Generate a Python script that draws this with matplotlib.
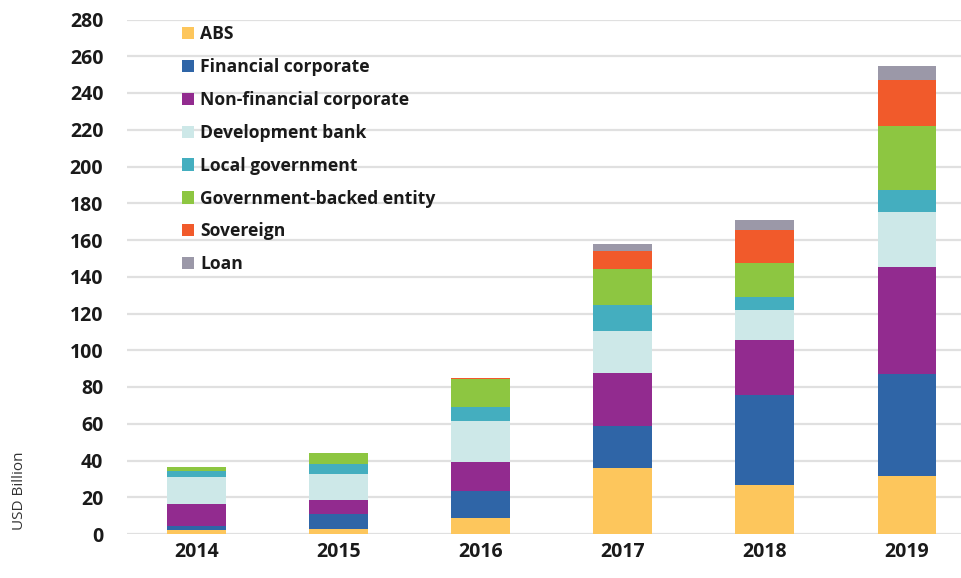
import matplotlib
matplotlib.use("Agg")
import matplotlib.pyplot as plt
from matplotlib.patches import Patch
import numpy as np

years = ["2014", "2015", "2016", "2017", "2018", "2019"]
series_names = ["ABS", "Financial corporate", "Non-financial corporate",
                "Development bank", "Local government",
                "Government-backed entity", "Sovereign", "Loan"]
abs_vals = [2.2, 2.5, 8.9, 35.9, 26.8, 31.6]
fin_corp = [2.2, 8.4, 14.7, 22.7, 48.6, 55.5]
nonfin_corp = [11.9, 7.6, 15.4, 29.0, 30.3, 58.4]
dev_bank = [14.6, 14.2, 22.5, 23.0, 16.0, 29.9]
local_gov = [3.6, 5.3, 7.8, 13.8, 7.3, 11.7]
gov_backed = [2.2, 6.0, 14.9, 20.0, 18.7, 34.8]
sovereign = [0.0, 0.0, 0.9, 9.4, 17.6, 25.4]
loan = [0.0, 0.0, 0.0, 4.0, 5.8, 7.3]
yticks = list(range(0, 281, 20))

colors = ["#FDC65C", "#2F65A7", "#922B8F", "#CDE8E8", "#44AEBF",
          "#8DC641", "#F15A2B", "#9B98A8"]
data = [abs_vals, fin_corp, nonfin_corp, dev_bank, local_gov, gov_backed, sovereign, loan]

fig = plt.figure(figsize=(9.62, 5.78), dpi=100)
ax = fig.add_axes([127/962, 1-534/578, 1-127/962, (534-19.5)/578])

x = np.arange(len(years))
bottom = np.zeros(len(years))
for vals, c, name in zip(data, colors, series_names):
    ax.bar(x, vals, bottom=bottom, width=0.41, color=c, label=name, zorder=3)
    bottom += np.array(vals)

ax.set_ylim(0, 280)
ax.set_xlim(-0.49, 5.39)
ax.set_yticks(yticks)
ax.set_xticks(x)
ax.set_xticklabels(years)
ax.yaxis.grid(True, color="#E0E0E0", linewidth=1.6, zorder=0)
ax.set_axisbelow(True)
for s in ax.spines.values():
    s.set_visible(False)
ax.tick_params(axis="both", length=0, labelsize=14, labelcolor="#1a1a1a")
ax.tick_params(axis="y", pad=17)
ax.tick_params(axis="x", pad=6)
for lbl in ax.get_xticklabels() + ax.get_yticklabels():
    lbl.set_fontweight("bold")
    lbl.set_fontfamily("Open Sans")

fig.text(20/962, 1-491/578, "USD Billion", rotation=90, ha="center", va="center",
         fontsize=11, color="#333333", family="Open Sans")

handles = [Patch(facecolor=c, edgecolor="none") for c in colors]
leg = ax.legend(handles, series_names, loc="upper left",
                bbox_to_anchor=(172/962 - 127/962, 1.0 + 10/514),
                frameon=False, handlelength=0.7, handleheight=0.7,
                handletextpad=0.35, labelspacing=0.85,
                prop={"family": "Open Sans", "weight": "bold", "size": 12.6})
for t in leg.get_texts():
    t.set_color("#1a1a1a")

fig.savefig("out.png", dpi=100)
